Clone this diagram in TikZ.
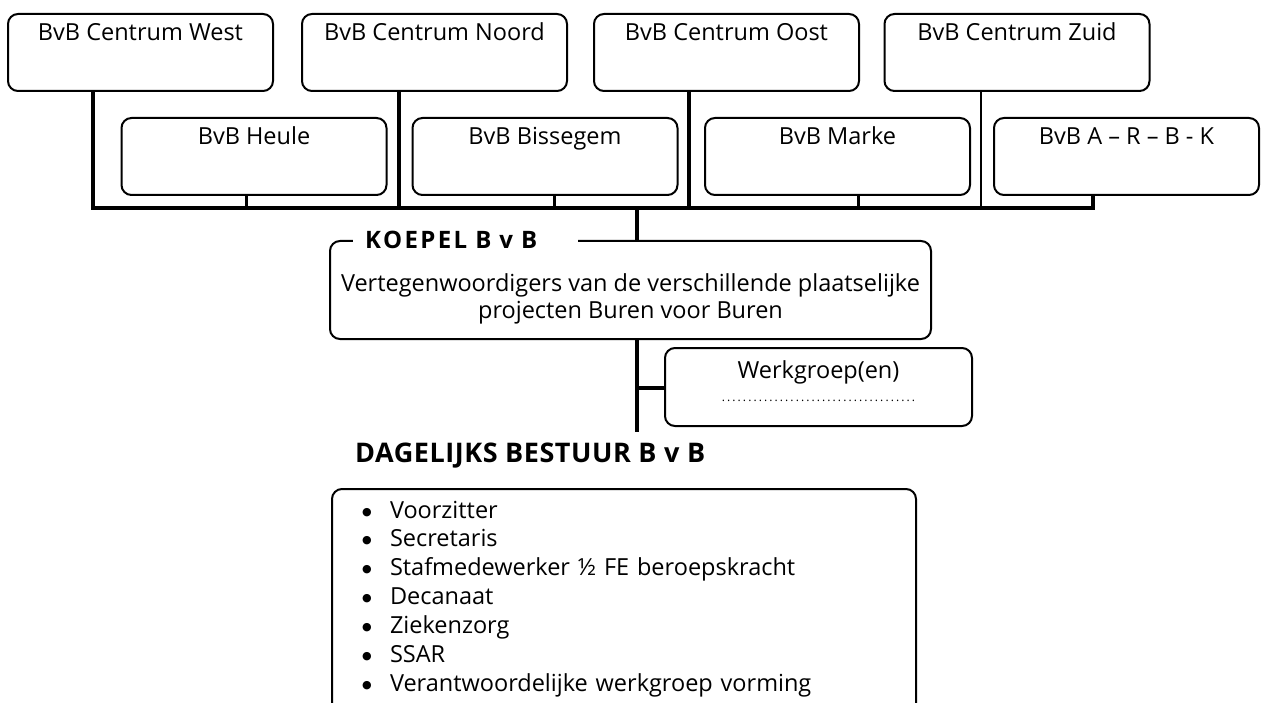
\documentclass[tikz,border=0pt]{standalone}
\usepackage{fontspec}
\setmainfont{Open Sans}
\newfontfamily\dejavu{DejaVu Sans}
\usetikzlibrary{positioning}
\tikzstyle{bvb}=[draw=black,rounded corners=10pt,line width=2pt,anchor=north,
  minimum width=265pt,inner sep=0pt,text height=27pt,text depth=50pt]
\tikzstyle{groot}=[draw=black,rounded corners=10pt,line width=2pt,anchor=north,
  inner sep=0pt]
\tikzstyle{titel}=[fill=white,inner ysep=2pt,inner xsep=12pt,text width=201pt,
  align=left,font=\bfseries\fontsize{24}{28}\selectfont\addfontfeatures{LetterSpace=10}]
\tikzstyle{dik}=[line width=3.5pt]
\tikzstyle{stomp}=[line width=3pt]
\tikzstyle{dun}=[line width=2.5pt]
\newcommand{\bol}{\makebox[25pt][l]{\hspace{-3pt}\raisebox{3pt}{\dejavu\fontsize{11}{11}\selectfont ●}}}

\begin{document}
\begin{tikzpicture}[x=1pt,y=-1pt,every node/.style={font=\fontsize{23.5}{27}\selectfont}]
  \useasboundingbox (0,0) rectangle (1266,703);
  \clip (0,0) rectangle (1266,703);
  % plaatselijke projecten
  \node[style=bvb] (west) at (140.5,13) {BvB Centrum West};
  \node[style=bvb] (noord) at (434.5,13) {BvB Centrum Noord};
  \node[style=bvb] (oost) at (726.5,13) {BvB Centrum Oost};
  \node[style=bvb] (zuid) at (1017,13) {BvB Centrum Zuid};
  \node[style=bvb] (heule) at (254,117) {BvB Heule};
  \node[style=bvb] (bissegem) at (545,117) {BvB Bissegem};
  \node[style=bvb] (marke) at (837.5,117) {BvB Marke};
  \node[style=bvb] (arbk) at (1126.5,117) {BvB A – R – B - K};
  % koepel
  \node[style=groot, minimum width=601pt, text height=50pt, text depth=48pt] (koepel) at (630.5,240)
    {\begin{tabular}[t]{@{}c@{}}Vertegenwoordigers van de verschillende plaatselijke\\
     projecten Buren voor Buren\end{tabular}};
  \node[style=titel, anchor=west] (koepeltitel) at (353,240) {KOEPEL B v B};
  \node[style=groot, minimum width=307pt, text height=30pt, text depth=48pt] (werk) at (818.5,347)
    {\begin{tabular}[t]{@{}c@{}}Werkgroep(en)\\[-4pt]
     {\fontsize{12}{12}\selectfont\makebox[197pt]{\dotfill}}\end{tabular}};
  \node[anchor=base west, inner sep=0pt,
    font=\bfseries\fontsize{27}{30}\selectfont\addfontfeatures{LetterSpace=2}] (dagelijks)
    at (355,462) {DAGELIJKS BESTUUR B v B};
  \node[style=groot, anchor=north west, text width=518pt, inner xsep=33pt, text height=29pt,
    text depth=231pt, align=left, font=\fontsize{23.5}{28.9}\selectfont] (bestuur) at (331,488)
    {\begin{tabular}[t]{@{}l@{}}
     \bol Voorzitter\\
     \bol Secretaris\\
     \bol Stafmedewerker ½ FE beroepskracht\\
     \bol Decanaat\\
     \bol Ziekenzorg\\
     \bol SSAR\\
     \bol Verantwoordelijke werkgroep vorming
     \end{tabular}};
  % verbindingen
  \coordinate (bwest) at (93,208);
  \coordinate (bnoord) at (399,208);
  \coordinate (boost) at (689,208);
  \coordinate (bzuid) at (981,208);
  \coordinate (bheule) at (246,208);
  \coordinate (bbiss) at (554,208);
  \coordinate (bmarke) at (858,208);
  \coordinate (barbk) at (1093,208);
  \coordinate (bkoepel) at (637,208);
  \coordinate (onder) at (637,432);
  \coordinate (tak) at (637,388);
  \draw[style=dik] (bwest |- west.south) -- (bwest) -- (barbk) -- (barbk |- arbk.south);
  \draw[style=dik] (bnoord |- noord.south) -- (bnoord);
  \draw[style=dik] (boost |- oost.south) -- (boost);
  \draw[style=dun] (bzuid |- zuid.south) -- (bzuid);
  \draw[style=stomp] (bheule |- heule.south) -- (bheule);
  \draw[style=stomp] (bbiss |- bissegem.south) -- (bbiss);
  \draw[style=stomp] (bmarke |- marke.south) -- (bmarke);
  \draw[style=dik] (bkoepel) -- (bkoepel |- koepel.north);
  \draw[style=dik] (onder |- koepel.south) -- (onder);
  \draw[style=dik] (tak) -- (tak -| werk.west);
\end{tikzpicture}
\end{document}
